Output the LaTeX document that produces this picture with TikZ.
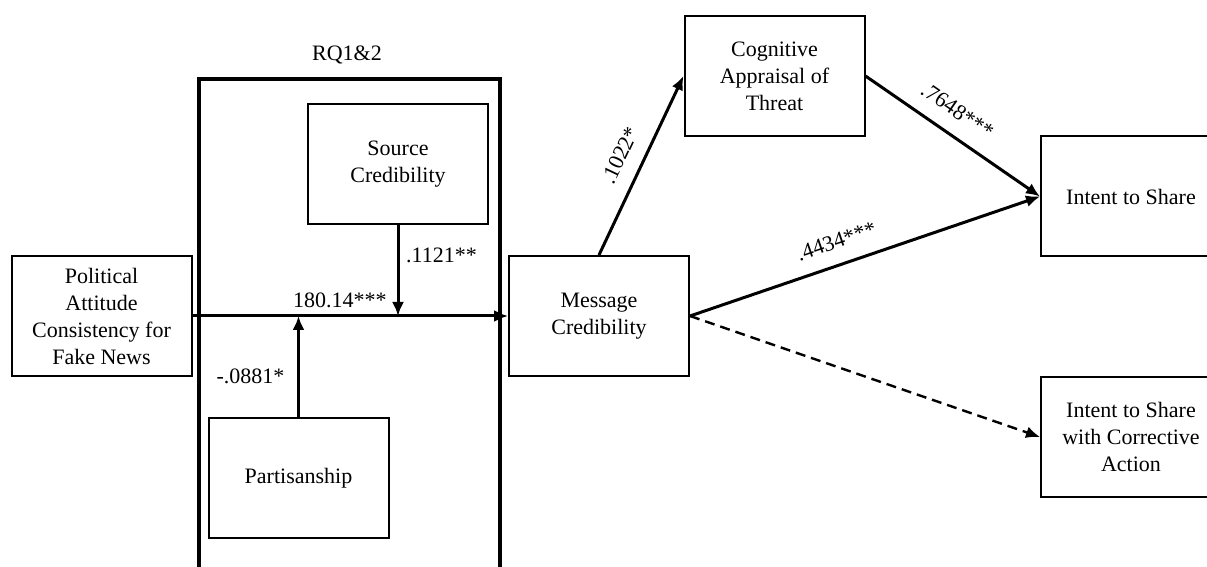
\documentclass[tikz,border=0pt]{standalone}
\usepackage{fontspec}
\setmainfont{Liberation Serif}
\usetikzlibrary{arrows.meta}
\tikzset{
	box/.style={draw, line width=1pt, minimum width=90pt, minimum height=60pt, align=center, font=\fontsize{11}{13.5}\selectfont},
	coef/.style={font=\fontsize{11}{13}\selectfont},
	link/.style={line width=1.5pt, -{Latex[length=7pt,width=6pt]}},
}
\begin{document}
\begin{tikzpicture}[x=0.5pt,y=-0.5pt]
			\useasboundingbox (0,0) rectangle (1207,567);
			\clip (0,0) rectangle (1207,567);
			\draw[line width=2pt] (199,600) |- (500,79) -- (500,600);
			\node[coef] (rq) at (347,55) {RQ1\&2};
			\node[box] (political) at (101.5,316) {Political\\Attitude\\Consistency for\\Fake News};
			\node[box] (source) at (398,164.5) {Source\\Credibility};
			\node[box] (partisan) at (298.5,478) {Partisanship};
			\node[box] (message) at (599,316) {Message\\Credibility};
			\node[box] (threat) at (774.5,76) {Cognitive\\Appraisal of\\Threat};
			\node[box] (share) at (1131,196.5) {Intent to Share};
			\node[box] (corrective) at (1131,437) {Intent to Share\\with Corrective\\Action};
			\coordinate (srcmeet) at (source.south |- message.west);
			\coordinate (partmeet) at (partisan.north |- message.west);
			\draw[link] (political.east) -- node[coef, pos=0.467, above] {180.14***} (message.west);
			\draw[link] (source.south) -- node[coef, pos=0.33, right] {.1121**} (srcmeet);
			\draw[link] (partisan.north) -- node[coef, pos=0.4, left=3pt] {-.0881*} (partmeet);
			\draw[link] (message.north) -- node[coef, sloped, pos=0.5, above=4pt] {.1022*} (threat.west);
			\draw[link] (threat.east) -- node[coef, sloped, pos=0.45, above=4pt] {.7648***} (share.west);
			\draw[link] (message.east) -- node[coef, sloped, pos=0.44, above=4pt] {.4434***} (share.west);
			\draw[link, line width=1.2pt, dash pattern=on 5pt off 3pt] (message.east) -- (corrective.west);
\end{tikzpicture}
\end{document}
